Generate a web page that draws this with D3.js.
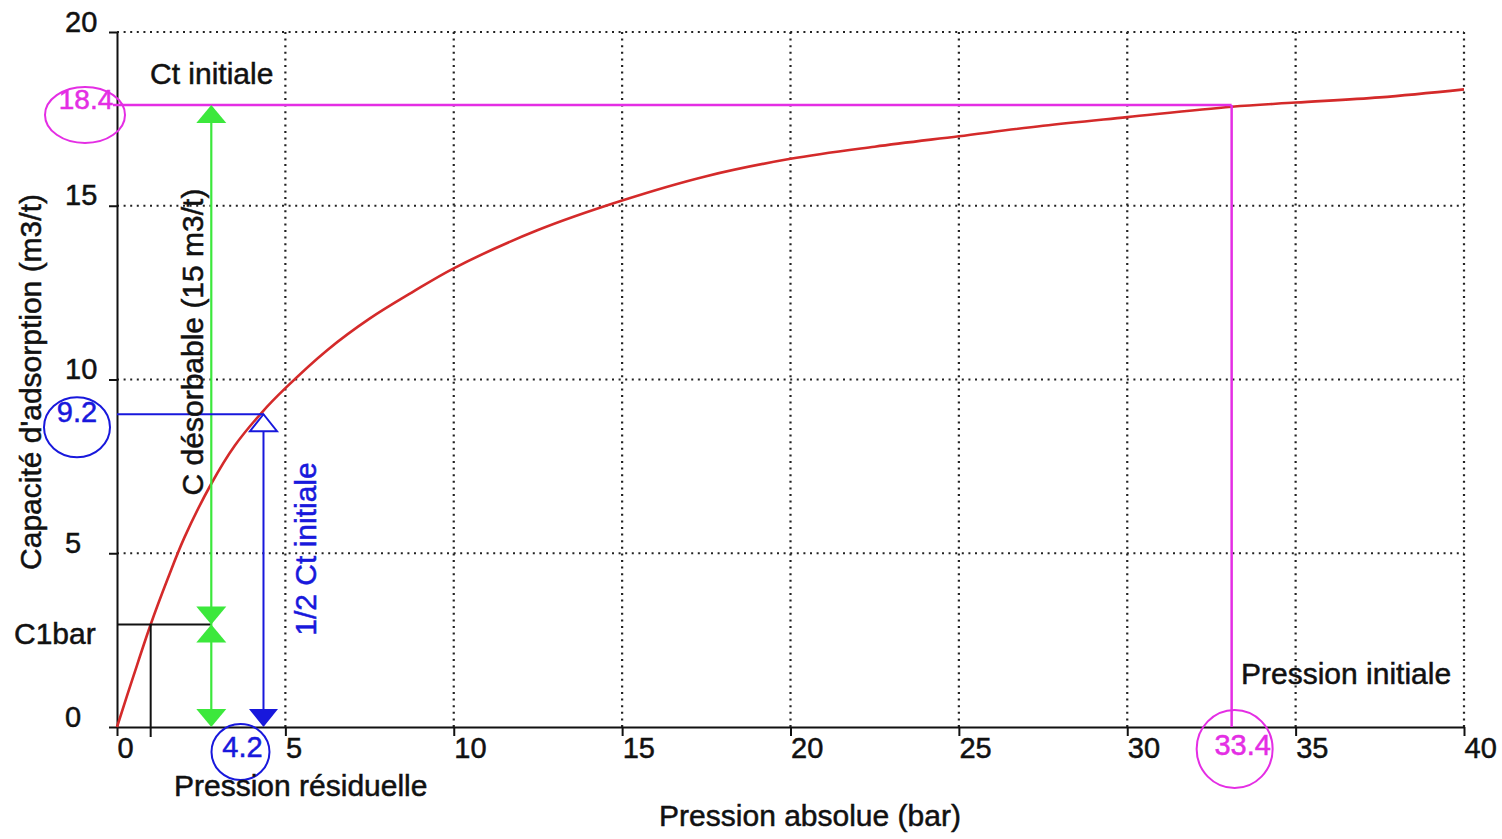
<!DOCTYPE html>
<html>
<head>
<meta charset="utf-8">
<script src="https://cdn.jsdelivr.net/npm/d3@7"></script>
<style>
body { margin: 0; background: #fff; }
text { font-family: "Liberation Sans", Arial, sans-serif; stroke-width: 0.5px; }
</style>
</head>
<body>
<script>
// isotherme
var pressure = [0, 0.5, 1, 1.5, 2, 2.8, 3.5, 4.3, 5, 6.25, 7.5, 8.75, 10, 12.5, 15, 17.5, 20, 22.5, 25, 27.5, 30, 33.1, 35, 37.5, 40];
var capacity = [0, 1.5, 2.95, 4.25, 5.45, 7.0, 8.1, 9.05, 9.75, 10.85, 11.75, 12.5, 13.2, 14.3, 15.15, 15.85, 16.35, 16.7, 17.0, 17.3, 17.55, 17.85, 17.97, 18.12, 18.35];

var xTicks = [0, 5, 10, 15, 20, 25, 30, 35, 40];
var yTicks = [0, 5, 10, 15, 20];

// points remarquables (position sur le dessin / valeur affichée)
var ctInit = 17.9, ctInitLabel = "18.4";
var pInit = 33.1, pInitLabel = "33.4";
var halfCt = 9.0, halfCtLabel = "9.2";
var pResid = 4.35, pResidLabel = "4.2";
var c1bar = 2.95, pC1 = 1;
var pDesorb = 2.8;

var width = 1502, height = 839;
var magenta = "#e42ee4", blue = "#1818dc", green = "#3ce83c", red = "#d42a2a";

var svg = d3.select("body").append("svg")
    .attr("width", width)
    .attr("height", height);

var x = d3.scaleLinear().domain([0, 40]).range([117, 1464]);
var y = d3.scaleLinear().domain([0, 20]).range([727, 32]);

// grille en pointillés
svg.append("g").selectAll("line")
    .data(xTicks.filter(function (d) { return d > 0; }))
    .enter().append("line")
    .attr("x1", function (d) { return x(d); })
    .attr("x2", function (d) { return x(d); })
    .attr("y1", y(0)).attr("y2", y(20))
    .attr("stroke", "#222").attr("stroke-width", 2.2)
    .attr("stroke-dasharray", "2,4.6");
svg.append("g").selectAll("line")
    .data(yTicks.filter(function (d) { return d > 0; }))
    .enter().append("line")
    .attr("x1", x(0)).attr("x2", x(40))
    .attr("y1", function (d) { return y(d); })
    .attr("y2", function (d) { return y(d); })
    .attr("stroke", "#222").attr("stroke-width", 2.2)
    .attr("stroke-dasharray", "2,4.6");

// axes
var gx = svg.append("g")
    .attr("transform", "translate(0," + y(0) + ")")
    .call(d3.axisBottom(x).tickValues(xTicks).tickSize(9).tickSizeOuter(0));
gx.selectAll(".tick text")
    .attr("text-anchor", "start").attr("x", 0).attr("y", 31).attr("dy", 0)
    .style("font-size", "29px").attr("fill", "#111").attr("stroke", "#111");

var gy = svg.append("g")
    .attr("transform", "translate(" + x(0) + ",0)")
    .call(d3.axisLeft(y).tickValues(yTicks).tickSize(8).tickSizeOuter(0));
gy.selectAll(".tick text")
    .attr("text-anchor", "start").attr("x", -52).attr("y", -1).attr("dy", 0)
    .style("font-size", "29px").attr("fill", "#111").attr("stroke", "#111");

svg.selectAll(".domain, .tick line").attr("stroke", "#111").attr("stroke-width", 2);

// courbe
var line = d3.line()
    .x(function (d) { return x(d[0]); })
    .y(function (d) { return y(d[1]); })
    .curve(d3.curveCatmullRom.alpha(0.5));

svg.append("path")
    .datum(pressure.map(function (p, i) { return [p, capacity[i]]; }))
    .attr("d", line)
    .attr("fill", "none").attr("stroke", red).attr("stroke-width", 2.6);

function tri(cx, tip, up, w, h) {
    var b = up ? tip + h : tip - h;
    return "M" + cx + "," + tip + "L" + (cx - w / 2) + "," + b + "L" + (cx + w / 2) + "," + b + "Z";
}

// C1bar
svg.append("line")
    .attr("x1", x(0)).attr("x2", x(pDesorb))
    .attr("y1", y(c1bar)).attr("y2", y(c1bar))
    .attr("stroke", "#111").attr("stroke-width", 2);
svg.append("line")
    .attr("x1", x(pC1)).attr("x2", x(pC1))
    .attr("y1", y(c1bar)).attr("y2", y(0) + 10)
    .attr("stroke", "#111").attr("stroke-width", 2);

// Ct initiale / pression initiale
svg.append("line")
    .attr("x1", x(0) - 4).attr("x2", x(pInit))
    .attr("y1", y(ctInit)).attr("y2", y(ctInit))
    .attr("stroke", magenta).attr("stroke-width", 2.5);
svg.append("line")
    .attr("x1", x(pInit)).attr("x2", x(pInit))
    .attr("y1", y(ctInit)).attr("y2", y(0))
    .attr("stroke", magenta).attr("stroke-width", 2.5);

// C désorbable (vert)
svg.append("line")
    .attr("x1", x(pDesorb)).attr("x2", x(pDesorb))
    .attr("y1", y(ctInit) + 5).attr("y2", y(0) - 5)
    .attr("stroke", green).attr("stroke-width", 2.2);
var greenHeads = [[y(ctInit), true], [y(c1bar), false], [y(c1bar), true], [y(0), false]];
svg.append("g").selectAll("path")
    .data(greenHeads).enter().append("path")
    .attr("d", function (d) { return tri(x(pDesorb), d[0], d[1], 30, 18); })
    .attr("fill", green);

// 1/2 Ct initiale (bleu)
svg.append("line")
    .attr("x1", x(0)).attr("x2", x(pResid))
    .attr("y1", y(halfCt)).attr("y2", y(halfCt))
    .attr("stroke", blue).attr("stroke-width", 2);
svg.append("line")
    .attr("x1", x(pResid)).attr("x2", x(pResid))
    .attr("y1", y(halfCt)).attr("y2", y(0) - 5)
    .attr("stroke", blue).attr("stroke-width", 2);
svg.append("path")
    .attr("d", tri(x(pResid), y(halfCt), true, 27, 17))
    .attr("fill", "#fff").attr("stroke", blue).attr("stroke-width", 2);
svg.append("path")
    .attr("d", tri(x(pResid), y(0), false, 29, 18))
    .attr("fill", blue);

// cercles des valeurs
var marks = [
    { cx: x(0) - 32, cy: y(ctInit) + 10, rx: 40, ry: 28, col: magenta, t: ctInitLabel, tx: x(0) - 31, ty: y(ctInit) + 4, fs: 28 },
    { cx: x(0) - 40, cy: y(halfCt) + 13, rx: 33, ry: 30, col: blue, t: halfCtLabel, tx: x(0) - 40, ty: y(halfCt) + 8, fs: 29 },
    { cx: x(pResid) - 23, cy: y(0) + 25, rx: 29, ry: 28, col: blue, t: pResidLabel, tx: x(pResid) - 21, ty: y(0) + 30, fs: 29 },
    { cx: x(pInit) + 3, cy: y(0) + 22, rx: 38, ry: 39, col: magenta, t: pInitLabel, tx: x(pInit) + 11, ty: y(0) + 28, fs: 29 }
];
svg.append("g").selectAll("ellipse")
    .data(marks).enter().append("ellipse")
    .attr("cx", function (d) { return d.cx; }).attr("cy", function (d) { return d.cy; })
    .attr("rx", function (d) { return d.rx; }).attr("ry", function (d) { return d.ry; })
    .attr("fill", "none").attr("stroke", function (d) { return d.col; }).attr("stroke-width", 2);
svg.append("g").selectAll("text")
    .data(marks).enter().append("text")
    .attr("x", function (d) { return d.tx; }).attr("y", function (d) { return d.ty; })
    .attr("text-anchor", "middle")
    .style("font-size", function (d) { return d.fs + "px"; })
    .attr("fill", function (d) { return d.col; })
    .attr("stroke", function (d) { return d.col; })
    .text(function (d) { return d.t; });

// textes
var labels = [
    { t: "Ct initiale", x: 150, y: 84, a: "start", r: 0, col: "#111" },
    { t: "C1bar", x: 14, y: 644, a: "start", r: 0, col: "#111" },
    { t: "Pression résiduelle", x: 174, y: 796, a: "start", r: 0, col: "#111" },
    { t: "Pression initiale", x: 1241, y: 684, a: "start", r: 0, col: "#111" },
    { t: "Pression absolue (bar)", x: 810, y: 826, a: "middle", r: 0, col: "#111" },
    { t: "Capacité d'adsorption (m3/t)", x: 41, y: 382, a: "middle", r: -90, col: "#111" },
    { t: "C désorbable (15 m3/t)", x: 203, y: 342, a: "middle", r: -90, col: "#111" },
    { t: "1/2 Ct initiale", x: 316, y: 549, a: "middle", r: -90, col: blue }
];
svg.append("g").selectAll("text")
    .data(labels).enter().append("text")
    .attr("transform", function (d) { return "translate(" + d.x + "," + d.y + ") rotate(" + d.r + ")"; })
    .attr("text-anchor", function (d) { return d.a; })
    .style("font-size", "30px")
    .attr("fill", function (d) { return d.col; })
    .attr("stroke", function (d) { return d.col; })
    .text(function (d) { return d.t; });
</script>
</body>
</html>
